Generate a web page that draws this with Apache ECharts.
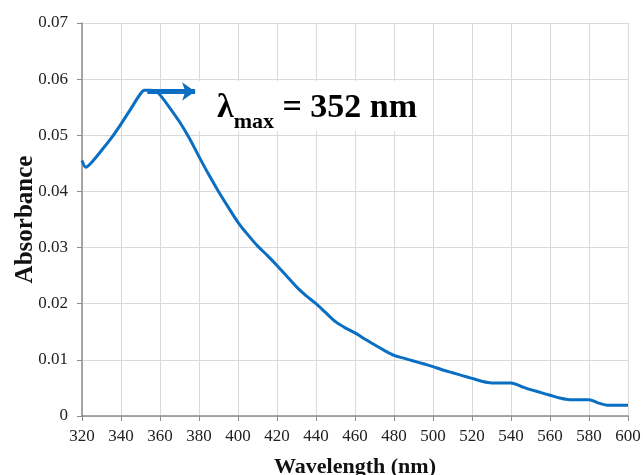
<!DOCTYPE html>
<html>
<head>
<meta charset="utf-8">
<script src="https://cdn.jsdelivr.net/npm/echarts@6/dist/echarts.min.js"></script>
<style>
html,body{margin:0;padding:0;background:#fff;}
#c{width:643px;height:475px;}
</style>
</head>
<body>
<div id="c"></div>
<script>
const wavelengths = [320,322,325,330,335,340,345,350,352,355,358,360,365,370,375,380,385,390,395,400,405,410,415,420,425,430,435,440,445,450,455,460,465,470,475,480,485,490,495,500,505,510,515,520,525,530,535,540,545,550,555,560,565,570,575,580,585,590,595,600];
const absorbance = [0.0455,0.0443,0.0452,0.0473,0.0495,0.0520,0.0547,0.0574,0.0580,0.0580,0.0578,0.0572,0.0549,0.0524,0.0495,0.0462,0.0430,0.0400,0.0372,0.0345,0.0323,0.0303,0.0286,0.0268,0.0249,0.0230,0.0214,0.0200,0.0184,0.0168,0.0157,0.0148,0.0137,0.0127,0.0117,0.0108,0.0103,0.0098,0.0093,0.0088,0.0082,0.0077,0.0072,0.0067,0.0062,0.0059,0.0059,0.0059,0.0053,0.0047,0.0042,0.0037,0.0032,0.0029,0.0029,0.0029,0.0023,0.0019,0.0019,0.0019];
const xTicks = {min:320, max:600, step:20};
const yTicks = {min:0, max:0.07, step:0.01};
const arrowFrom = [353.5, 0.0578];
const arrowTo = [378, 0.0578];
const labelAt = [440, 0.0552];
const xTitle = 'Wavelength (nm)';
const yTitle = 'Absorbance';

const chart = echarts.init(document.getElementById('c'), null, {renderer:'canvas'});
const serif = '"Liberation Serif","Times New Roman",serif';
const data = wavelengths.map((w,i)=>[w, absorbance[i]]);
chart.setOption({
  animation:false,
  backgroundColor:'#fff',
  grid:{left:82, right:15, top:23, bottom:59, containLabel:false, outerBoundsMode:'none'},
  xAxis:{
    type:'value', min:xTicks.min, max:xTicks.max, interval:xTicks.step,
    name:xTitle, nameLocation:'middle', nameGap:40, nameMoveOverlap:false,
    nameTextStyle:{fontFamily:serif, fontWeight:'bold', fontSize:22, color:'#111'},
    axisLine:{show:true, lineStyle:{color:'#8c8c8c', width:1.5}},
    axisTick:{show:true, length:5, lineStyle:{color:'#8c8c8c'}},
    axisLabel:{fontFamily:serif, fontSize:17, color:'#222', margin:12},
    splitLine:{show:true, lineStyle:{color:'#d9d9d9', width:1}}
  },
  yAxis:{
    type:'value', min:yTicks.min, max:yTicks.max, interval:yTicks.step,
    name:yTitle, nameLocation:'middle', nameGap:44, nameMoveOverlap:false,
    nameTextStyle:{fontFamily:serif, fontWeight:'bold', fontSize:25, color:'#111'},
    axisLine:{show:true, lineStyle:{color:'#8c8c8c', width:1.5}},
    axisTick:{show:true, length:5, lineStyle:{color:'#8c8c8c'}},
    axisLabel:{fontFamily:serif, fontSize:17, color:'#222', margin:14,
      formatter:v=> v===0 ? '0' : v.toFixed(2)},
    splitLine:{show:true, lineStyle:{color:'#d9d9d9', width:1}}
  },
  series:[{
    type:'line', data:data, smooth:0.3, showSymbol:false,
    lineStyle:{color:'#0a6fc2', width:3},
    markLine:{
      silent:true, symbol:['none','arrow'], symbolSize:[14,13],
      lineStyle:{color:'#0a6fc2', width:5, type:'solid'},
      label:{show:false},
      data:[[{coord:arrowFrom},{coord:arrowTo}]]
    },
    markPoint:{
      silent:true,
      data:[{
        coord:labelAt, symbol:'rect', symbolSize:1, itemStyle:{color:'rgba(0,0,0,0)'},
        label:{
          show:true, position:'inside', backgroundColor:'#fff', padding:[6,16,6,18],
          formatter:'{a|λ}{b|max}{a| = 352 nm}',
          rich:{
            a:{fontFamily:serif, fontWeight:'bold', fontSize:34, color:'#000', verticalAlign:'bottom', lineHeight:38},
            b:{fontFamily:serif, fontWeight:'bold', fontSize:22, color:'#000', verticalAlign:'bottom', lineHeight:30, padding:[0,0,-8,0]}
          }
        }
      }]
    }
  }]
});
</script>
</body>
</html>
